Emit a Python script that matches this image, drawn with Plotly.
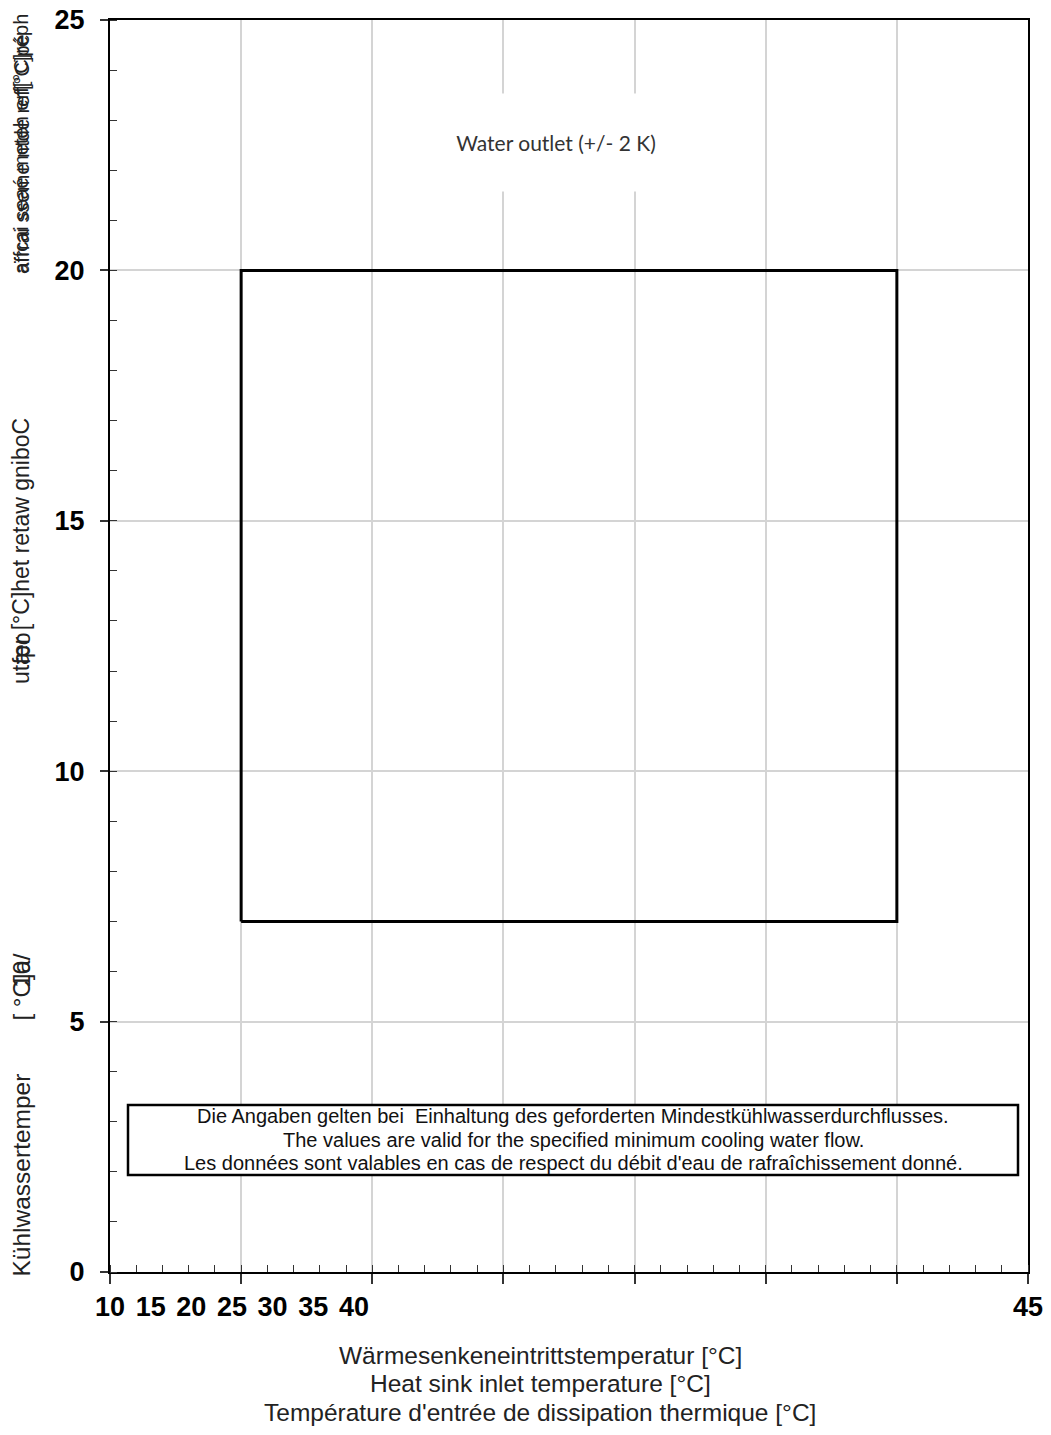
import plotly.graph_objects as go

# ---- data ----
x_tick_labels = ["10", "15", "20", "25", "30", "35", "40", "45"]
y_tick_values = [0, 5, 10, 15, 20, 25]
region_x = [15, 40, 40, 15, 15]      # heat sink inlet temperature [°C]
region_y = [7, 7, 20, 20, 7]         # cooling water outlet temperature [°C]
x_range = [10, 45]
y_range = [0, 25]
region_label = "Water outlet (+/- 2 K)"
note_lines = [
    "Die Angaben gelten bei  Einhaltung des geforderten Mindestkühlwasserdurchflusses.",
    "The values are valid for the specified minimum cooling water flow.",
    "Les données sont valables en cas de respect du débit d'eau de rafraîchissement donné.",
]
x_title_lines = [
    "Wärmesenkeneintrittstemperatur [°C]",
    "Heat sink inlet temperature [°C]",
    "Température d'entrée de dissipation thermique [°C]",
]

W, H = 1051, 1435
ML, MR, MT, MB = 110, 23, 20, 163
PW, PH = W - ML - MR, H - MT - MB

def px_x(p):
    return (p - ML) / PW

def px_y(p):
    return (H - MB - p) / PH

FONT = "Liberation Sans, Arial, sans-serif"

fig = go.Figure()

# operating region
fig.add_trace(go.Scatter(
    x=region_x, y=region_y, mode="lines",
    line=dict(color="black", width=3), showlegend=False, hoverinfo="skip",
))
# invisible trace on the label axis
fig.add_trace(go.Scatter(
    x=[x_range[0]], y=[y_range[0]], xaxis="x2", mode="markers",
    marker=dict(opacity=0), showlegend=False, hoverinfo="skip",
))

label_pos = [10 + 1.55 * i for i in range(7)] + [45]

fig.update_layout(
    width=W, height=H,
    margin=dict(l=ML, r=MR, t=MT, b=MB, autoexpand=False),
    plot_bgcolor="white", paper_bgcolor="white",
    showlegend=False,
    xaxis=dict(
        range=x_range, dtick=5, tick0=10, automargin=False,
        showgrid=True, gridcolor="#d4d4d4", gridwidth=1.5,
        showline=True, linecolor="black", linewidth=2, mirror=True,
        ticks="outside", ticklen=10, tickwidth=1.5, tickcolor="#333",
        minor=dict(dtick=1, ticks="inside", ticklen=7, tickwidth=1.2, tickcolor="#333", showgrid=False),
        showticklabels=False, zeroline=False,
    ),
    xaxis2=dict(
        range=x_range, overlaying="x", side="bottom", automargin=False,
        tickmode="array", tickvals=label_pos, ticktext=x_tick_labels,
        showgrid=False, showline=False, ticks="", zeroline=False,
        tickfont=dict(family=FONT, size=27, color="black", weight="bold"),
        ticklabelstandoff=16,
    ),
    yaxis=dict(
        range=y_range, tickvals=y_tick_values, automargin=False,
        showgrid=True, gridcolor="#d4d4d4", gridwidth=1.5,
        showline=True, linecolor="black", linewidth=2, mirror=True,
        ticks="outside", ticklen=8, tickwidth=1.5, tickcolor="#333",
        minor=dict(dtick=1, ticks="inside", ticklen=7, tickwidth=1.2, tickcolor="#333", showgrid=False),
        tickfont=dict(family=FONT, size=27, color="black", weight="bold"),
        ticklabelstandoff=10, zeroline=False,
    ),
)

# note box frame (white fill hides the grid)
fig.add_shape(
    type="rect", xref="paper", yref="paper",
    x0=px_x(128), x1=px_x(1018), y0=px_y(1175), y1=px_y(1105),
    line=dict(color="black", width=2.5), fillcolor="white", layer="above",
)

annotations = []
# region label with white background
annotations.append(dict(
    x=px_x(556), y=px_y(143), xref="paper", yref="paper",
    text=region_label, showarrow=False,
    font=dict(family="Lato, Open Sans, sans-serif", size=21, color="#333"),
    bgcolor="white", width=300, height=95,
    xanchor="center", yanchor="middle",
))
# note lines
for txt, ypix in zip(note_lines, [1116, 1140, 1163]):
    annotations.append(dict(
        x=px_x(573), y=px_y(ypix), xref="paper", yref="paper",
        text=txt, showarrow=False,
        font=dict(family=FONT, size=20, color="#111"),
        xanchor="center", yanchor="middle",
    ))
# x-axis title
for txt, ypix in zip(x_title_lines, [1355, 1383, 1412]):
    annotations.append(dict(
        x=px_x(540), y=px_y(ypix), xref="paper", yref="paper",
        text=txt, showarrow=False,
        font=dict(family=FONT, size=24.5, color="#222"),
        xanchor="center", yanchor="middle",
    ))
# garbled rotated y-axis title fragments
ytitle_parts = [
    ("Kühlwassertemper", 1279, 24.5),
    ("[ °C]a/", 1023, 24),
    ("     10", 1023, 24),
    ("utær [°C]het retaw gniboC", 686, 23),
    ("   fpo", 686, 23),
    ("aïfcai seaé meteh erf[°C]réph", 276, 20),
    ("afrrai sseme ntde ref[°C]pé", 276, 20),
]
for txt, bottom, fs in ytitle_parts:
    annotations.append(dict(
        x=px_x(21), y=px_y(bottom), xref="paper", yref="paper",
        text=txt, showarrow=False, textangle=-90,
        font=dict(family=FONT, size=fs, color="#222"),
        xanchor="center", yanchor="bottom",
    ))

fig.update_layout(annotations=annotations)

fig.write_html("out.html")
